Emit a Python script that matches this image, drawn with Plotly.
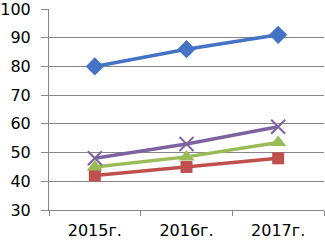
import plotly.graph_objects as go

categories = ["2015г.", "2016г.", "2017г."]
series1 = [80, 86, 91]
series2 = [42, 45, 48]
series3 = [45, 48.5, 53.5]
series4 = [48, 53, 59]

colors = ["#4472C4", "#C0504D", "#9BBB59", "#7F63A1"]
symbols = ["diamond", "square", "triangle-up", "x-thin"]
sizes = [14, 12, 14, 14]
data = [series1, series2, series3, series4]

fig = go.Figure()
for vals, c, s, sz in zip(data, colors, symbols, sizes):
    marker = dict(symbol=s, size=sz, color=c)
    if s == "x-thin":
        marker = dict(symbol=s, size=sz, color=c, line=dict(color=c, width=2))
    fig.add_trace(go.Scatter(x=categories, y=vals, mode="lines+markers",
                             line=dict(color=c, width=3.5), marker=marker,
                             showlegend=False, cliponaxis=False, hoverinfo="skip"))

fig.update_layout(
    width=325, height=244,
    margin=dict(l=49, r=1, t=9, b=34, autoexpand=False),
    paper_bgcolor="white", plot_bgcolor="white",
    font=dict(family="DejaVu Sans, sans-serif", size=16, color="#000000"),
)
fig.update_yaxes(range=[30, 100], tickvals=[30, 40, 50, 60, 70, 80, 90, 100],
                 showgrid=True, gridcolor="#868686", gridwidth=1,
                 showline=True, linecolor="#868686", linewidth=1, automargin=False,
                 ticks="outside", ticklen=7, tickcolor="#868686", zeroline=False,
                 ticklabelstandoff=7, ticklabeloverflow="allow")
fig.update_xaxes(type="category", tickson="boundaries", ticks="outside", ticklen=5,
                 tickcolor="#868686", showline=True, linecolor="#868686", linewidth=1,
                 showgrid=False, range=[-0.5, 2.5], automargin=False,
                 ticklabelstandoff=6, ticklabeloverflow="allow")
fig.write_html("out.html", config={"displayModeBar": False},
               post_script="document.body.style.margin='0';")
